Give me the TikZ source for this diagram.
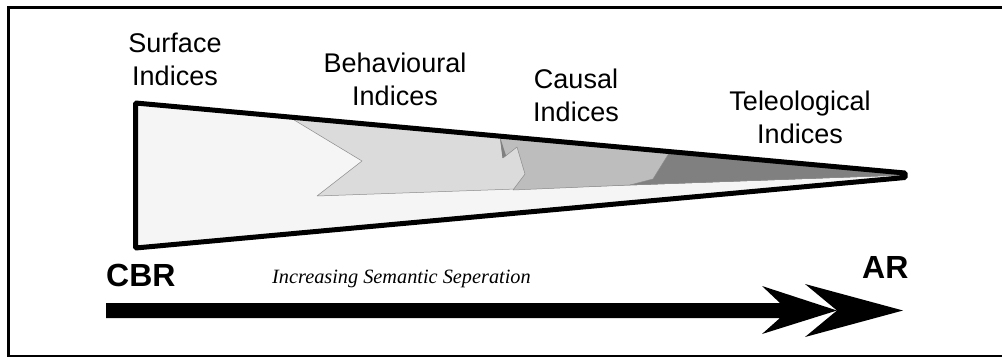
\documentclass[tikz,border=0pt]{standalone}
\usepackage{fontspec}
\setmainfont{Liberation Serif}
\newfontfamily\arialf{Liberation Sans}
\begin{document}
\begin{tikzpicture}[x=1pt,y=-1pt,
  lab/.style={font=\arialf\fontsize{27}{33}\selectfont, align=center, inner sep=0pt, anchor=base},
  big/.style={font=\arialf\bfseries\fontsize{32}{36}\selectfont, inner sep=0pt, anchor=base west},
  region/.style={draw=black!45, line width=0.5pt, line join=round}]
\useasboundingbox (0,0) rectangle (1002,360);
% frame (open at right)
\draw[line width=2.5pt] (1003,7.3) -- (8.7,7.3) -- (8.7,356) -- (1003,356);
% triangle fill
\coordinate (tl) at (135.5,103);
\coordinate (bl) at (135.5,248);
\coordinate (tipa) at (905,173);
\coordinate (tipb) at (905,177.5);
\fill[black!4] (tl) -- (tipa) -- (tipb) -- (bl) -- cycle;
% behavioural region
\filldraw[region, fill=black!14] (290,117.5) -- (362,161) -- (317,196) -- (630,185) -- (905,175) -- (tipa) -- cycle;
% causal region
\filldraw[region, fill=black!26] (500,136.2) -- (503,158) -- (517,147) -- (525,174) -- (513,190) -- (630,185) -- (905,175) -- (tipa) -- cycle;
\fill[black!50] (500,137) -- (502.5,158) -- (506,155.5) -- cycle;
% teleological region
\filldraw[region, fill=black!50] (670,151.6) -- (653,179) -- (630,185) -- (905,175) -- (tipa) -- cycle;
% triangle outline
\draw[line width=5pt, line join=bevel] (tl) -- (tipa) -- (tipb) -- (bl) -- cycle;
% labels (base = baseline of the last line)
\node[lab] (surf) at (175,85) {Surface\\Indices};
\node[lab] (beh) at (395,105) {Behavioural\\Indices};
\node[lab] (caus) at (576,121) {Causal\\Indices};
\node[lab] (tele) at (800,143) {Teleological\\Indices};
\node[big] (cbr) at (106,286) {CBR};
\node[big] (ar) at (862,278) {AR};
\node[font=\itshape\fontsize{20.3}{24}\selectfont, inner sep=0pt, anchor=base west] (sem) at (272,283) {Increasing Semantic Seperation};
% arrow
\fill (106,303) -- (780,303) -- (762,286) -- (837,310.5) -- (762,334) -- (780,318) -- (106,318) -- cycle;
\fill (805,284) -- (903,310.5) -- (805,337) -- (837,310.5) -- cycle;
\end{tikzpicture}
\end{document}
